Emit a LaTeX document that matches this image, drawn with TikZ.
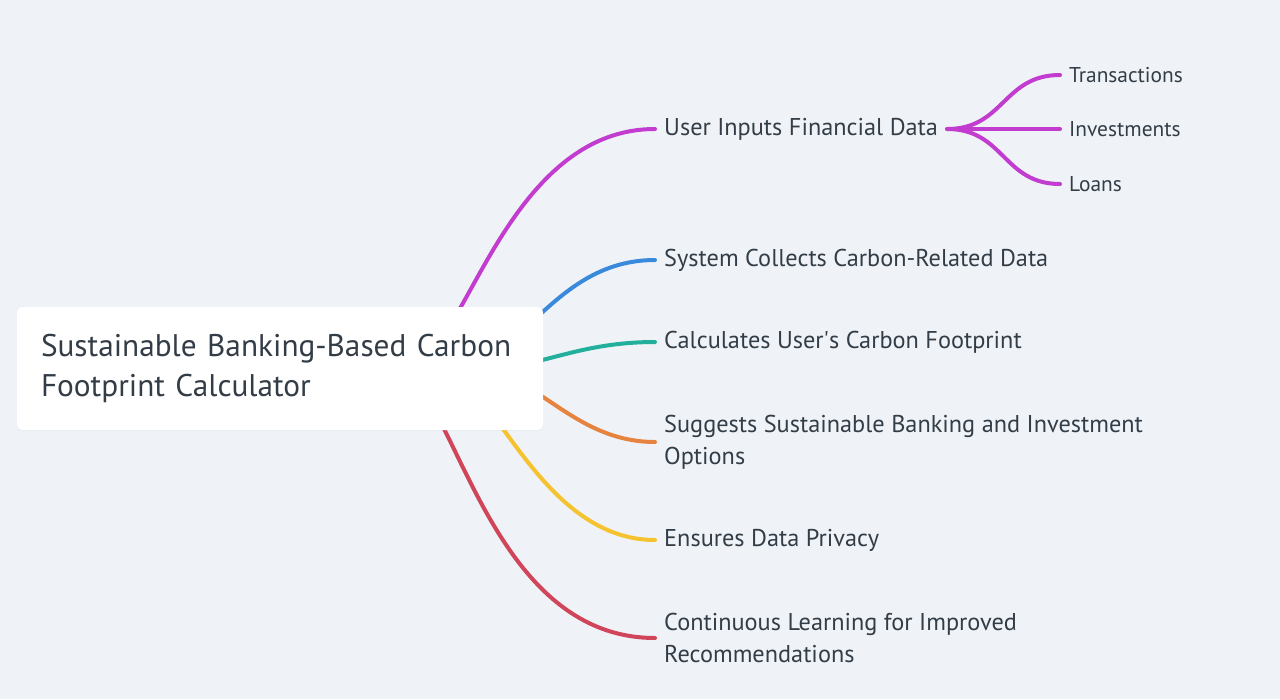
\documentclass[tikz,border=0pt]{standalone}
\usepackage{fontspec}
\setmainfont{PT Sans}
\usetikzlibrary{positioning,calc,shadows}

\definecolor{bgcol}{HTML}{EFF3F7}
\definecolor{txtcol}{HTML}{333D47}
\definecolor{magentacol}{HTML}{C13CCF}
\definecolor{bluecol}{HTML}{3A8ADB}
\definecolor{tealcol}{HTML}{22B09C}
\definecolor{orangecol}{HTML}{E6833E}
\definecolor{yellowcol}{HTML}{F4C32F}
\definecolor{redcol}{HTML}{D0455A}

\begin{document}
\begin{tikzpicture}[x=1pt, y=-1pt]
        \tikzstyle{branch}=[anchor=west, inner xsep=9pt, inner ysep=0pt, text=txtcol, font=\fontsize{24.3}{32}\selectfont, align=left];
        \tikzstyle{leaf}=[anchor=west, inner xsep=9pt, inner ysep=0pt, text=txtcol, font=\fontsize{21.4}{24}\selectfont];
        \tikzstyle{link}=[line width=4pt, line cap=round];

        \fill[bgcol] (0, 0) rectangle (1280, 699);

        \node[branch] (b1) at (655, 129) {User Inputs Financial Data};
        \node[branch] (b2) at (655, 260) {System Collects Carbon-Related Data};
        \node[branch] (b3) at (655, 342) {Calculates User\textquotesingle s Carbon Footprint};
        \node[branch] (b4) at (655, 442) {Suggests Sustainable Banking and Investment\\Options};
        \node[branch] (b5) at (655, 540) {Ensures Data Privacy};
        \node[branch] (b6) at (655, 638) {Continuous Learning for Improved\\Recommendations};

        \node[leaf] (l1) at (1060, 75) {Transactions};
        \node[leaf] (l2) at (1060, 129) {Investments};
        \node[leaf] (l3) at (1060, 184) {Loans};

        % branch starts, hidden behind the root box
        \coordinate (s1) at (455, 317);
        \coordinate (s2) at (533, 321);
        \coordinate (s3) at (530, 363);
        \coordinate (s4) at (532, 390);
        \coordinate (s5) at (498, 422);
        \coordinate (s6) at (440, 421);

        \draw[link, magentacol] (s1) .. controls +(38, -64) and +(-110, 0) .. (b1.west);
        \draw[link, bluecol] (s2) .. controls +(32, -30) and +(-55, 0) .. (b2.west);
        \draw[link, tealcol] (s3) .. controls +(35, -8) and +(-55, 0) .. (b3.west);
        \draw[link, orangecol] (s4) .. controls +(33, 20) and +(-55, 0) .. (b4.west);
        \draw[link, yellowcol] (s5) .. controls +(35, 48) and +(-75, 0) .. (b5.west);
        \draw[link, redcol] (s6) .. controls +(40, 77) and +(-125, 0) .. (b6.west);

        \draw[link, magentacol] (b1.east) .. controls +(57, 0) and +(-57, 0) .. (l1.west);
        \draw[link, magentacol] (b1.east) -- (l2.west);
        \draw[link, magentacol] (b1.east) .. controls +(57, 0) and +(-57, 0) .. (l3.west);

        \node[fill=white, rounded corners=6pt, minimum width=526pt, minimum height=123pt,
              text width=478pt, inner xsep=24pt, align=left, text=txtcol,
              font=\fontsize{31.3}{40}\selectfont,
              drop shadow={opacity=0.06, shadow xshift=0pt, shadow yshift=-1pt}]
              (root) at (280, 368.5) {Sustainable Banking-Based Carbon\\Footprint Calculator};
\end{tikzpicture}
\end{document}
